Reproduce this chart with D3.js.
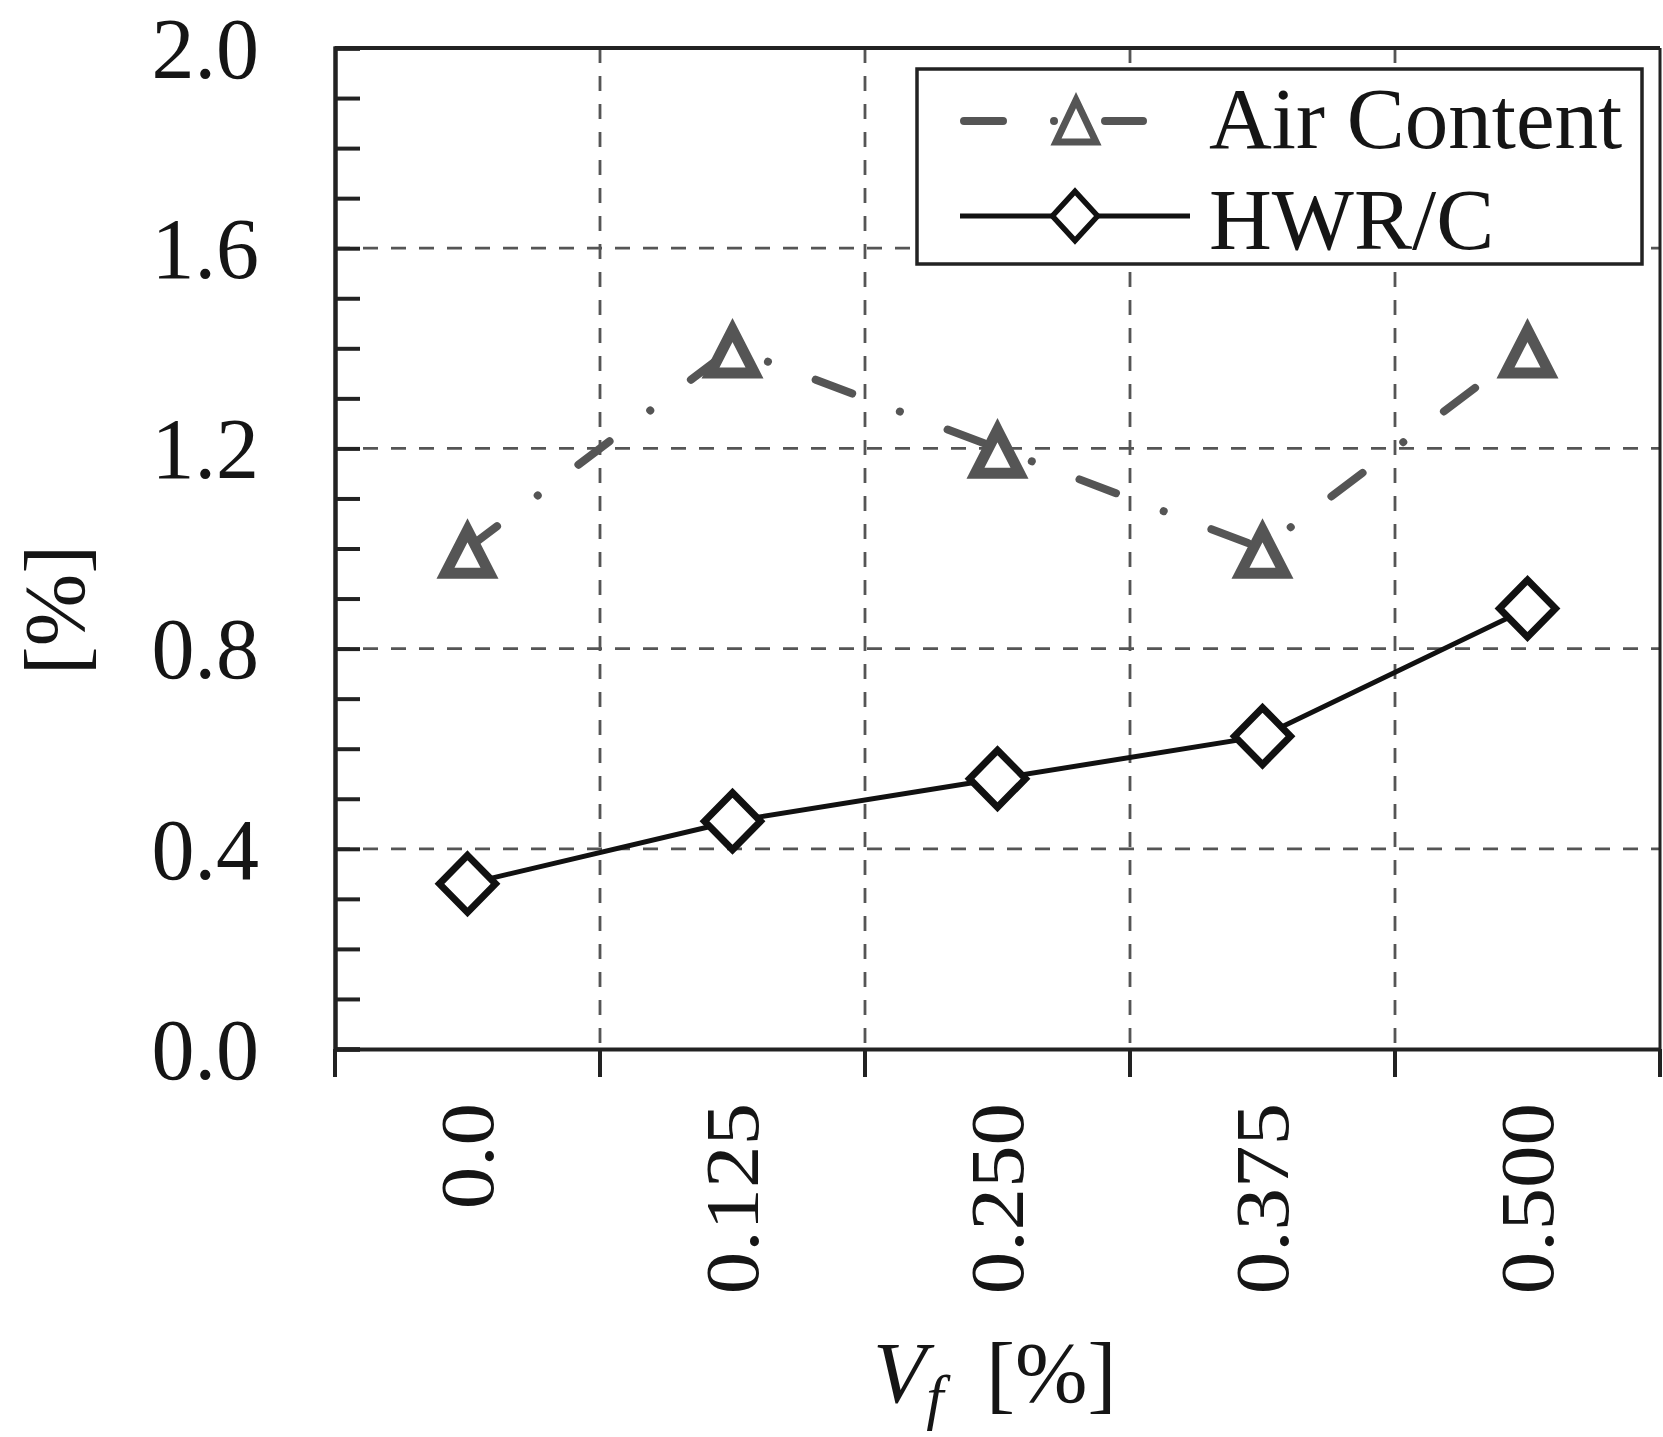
<!DOCTYPE html>
<html>
<head>
<meta charset="utf-8">
<script src="https://cdn.jsdelivr.net/npm/d3@7"></script>
<style>
  html, body { margin: 0; padding: 0; background: #fff; }
  svg { display: block; }
  text { font-family: "Liberation Serif", "Times New Roman", serif; fill: #151515; }
</style>
</head>
<body>
<svg id="chart" width="1663" height="1437"></svg>
<script>
// ---------- data ----------
const categories = ["0.0", "0.125", "0.250", "0.375", "0.500"];
const airContent = [1.0, 1.4, 1.2, 1.0, 1.4];
const hwrc = [0.33, 0.455, 0.54, 0.625, 0.88];
const yMajorTicks = [0.0, 0.4, 0.8, 1.2, 1.6, 2.0];
const yMinorTicks = [0.1, 0.2, 0.3, 0.5, 0.6, 0.7, 0.9, 1.0, 1.1, 1.3, 1.4, 1.5, 1.7, 1.8, 1.9];
const seriesNames = ["Air Content", "HWR/C"];

// ---------- layout ----------
const plot = { left: 335, right: 1660, top: 48, bottom: 1049 };
const axisColor = "#222";
const gridColor = "#555";
const airColor = "#555";
const fontSize = 87;
const airDash = "39,51,0.01,51";

const svg = d3.select("#chart");

const x = d3.scaleBand().domain(categories).range([plot.left, plot.right]).padding(0);
const y = d3.scaleLinear().domain([0, 2]).range([plot.bottom, plot.top]);

const boundaries = categories.map(c => x(c)).concat([x.range()[1]]);
const cx = c => x(c) + x.bandwidth() / 2;

// ---------- gridlines ----------
const grid = svg.append("g");
grid.selectAll("line.hg")
  .data(yMajorTicks.filter(v => v > 0 && v < 2))
  .join("line")
  .attr("x1", plot.left).attr("x2", plot.right)
  .attr("y1", d => y(d)).attr("y2", d => y(d))
  .attr("stroke", gridColor).attr("stroke-width", 2.8)
  .attr("stroke-dasharray", "15,13");
grid.selectAll("line.vg")
  .data(boundaries.slice(1, -1))
  .join("line")
  .attr("x1", d => d).attr("x2", d => d)
  .attr("y1", plot.top).attr("y2", plot.bottom)
  .attr("stroke", gridColor).attr("stroke-width", 2.8)
  .attr("stroke-dasharray", "15,13");

// ---------- frame ----------
svg.append("line").attr("x1", plot.left).attr("x2", plot.right)
  .attr("y1", plot.top).attr("y2", plot.top)
  .attr("stroke", axisColor).attr("stroke-width", 4);
svg.append("line").attr("x1", plot.right).attr("x2", plot.right)
  .attr("y1", plot.top).attr("y2", plot.bottom)
  .attr("stroke", axisColor).attr("stroke-width", 3);

// ---------- y axis ----------
const yAxisMajor = svg.append("g").attr("transform", `translate(${plot.left},0)`)
  .call(d3.axisLeft(y).tickValues(yMajorTicks).tickFormat(d3.format(".1f"))
    .tickSize(-25).tickPadding(76));
const yAxisMinor = svg.append("g").attr("transform", `translate(${plot.left},0)`)
  .call(d3.axisLeft(y).tickValues(yMinorTicks).tickFormat("").tickSize(-25));
[yAxisMajor, yAxisMinor].forEach(g => {
  g.select(".domain").attr("stroke", axisColor).attr("stroke-width", 4);
  g.selectAll(".tick line").attr("stroke", axisColor).attr("stroke-width", 4);
});
yAxisMajor.selectAll(".tick text")
  .attr("font-size", 86)
  .attr("dy", "0.34em")
  .attr("font-family", "Liberation Serif")
  .attr("fill", "#151515");

// ---------- x axis ----------
const xAxis = svg.append("g").attr("transform", `translate(0,${plot.bottom})`)
  .call(d3.axisBottom(x).tickSize(0));
xAxis.select(".domain").attr("stroke", axisColor).attr("stroke-width", 4);
xAxis.selectAll(".tick text")
  .attr("font-size", 85)
  .attr("font-family", "Liberation Serif")
  .attr("fill", "#151515")
  .attr("text-anchor", "end")
  .attr("y", null).attr("dy", "0.33em")
  .attr("transform", "translate(0,54) rotate(-90) scale(1,0.9)");
svg.append("g").selectAll("line")
  .data(boundaries)
  .join("line")
  .attr("x1", d => d).attr("x2", d => d)
  .attr("y1", plot.bottom).attr("y2", plot.bottom + 28)
  .attr("stroke", axisColor).attr("stroke-width", 4);

// ---------- axis titles ----------
const xt = svg.append("text")
  .attr("x", 873).attr("y", 1402)
  .attr("font-size", fontSize);
xt.append("tspan").attr("font-style", "italic").text("V");
xt.append("tspan").attr("font-style", "italic").attr("font-size", 62)
  .attr("dx", 0).attr("dy", 16).text("f");
xt.append("tspan").attr("x", 986).attr("dy", -16).text("[%]");

svg.append("text")
  .attr("transform", "translate(84,610) rotate(-90)")
  .attr("text-anchor", "middle").attr("font-size", fontSize)
  .text("[%]");

// ---------- markers ----------
// triangle: half width hw, apex above centre by a, base below centre by b
const triSym = (hw, a, b) => ({
  draw(ctx) {
    ctx.moveTo(0, -a);
    ctx.lineTo(hw, b);
    ctx.lineTo(-hw, b);
    ctx.closePath();
  }
});
const diaSym = (hw, hh) => ({
  draw(ctx) {
    ctx.moveTo(0, -hh);
    ctx.lineTo(hw, 0);
    ctx.lineTo(0, hh);
    ctx.lineTo(-hw, 0);
    ctx.closePath();
  }
});
const triPath = d3.symbol().type(triSym(22, 18.2, 24.8))();
const diaPath = d3.symbol().type(diaSym(28, 28.5))();
const triPathLegend = d3.symbol().type(triSym(20, 18.9, 23.1))();
const diaPathLegend = d3.symbol().type(diaSym(22.6, 24.6))();

// ---------- series ----------
const airData = categories.map((c, i) => ({ c, v: airContent[i] }));
const hwrData = categories.map((c, i) => ({ c, v: hwrc[i] }));
const line = d3.line().x(d => cx(d.c)).y(d => y(d.v));

svg.append("path").datum(airData)
  .attr("d", line)
  .attr("fill", "none").attr("stroke", airColor).attr("stroke-width", 8)
  .attr("stroke-linecap", "round")
  .attr("stroke-dasharray", airDash)
  .attr("stroke-dashoffset", 2);

svg.append("path").datum(hwrData)
  .attr("d", line)
  .attr("fill", "none").attr("stroke", "#111").attr("stroke-width", 5);

svg.append("g").selectAll("path")
  .data(airData).join("path")
  .attr("transform", d => `translate(${cx(d.c)},${y(d.v)})`)
  .attr("d", triPath)
  .attr("fill", "#fff").attr("stroke", airColor).attr("stroke-width", 11)
  .attr("stroke-linejoin", "miter");

svg.append("g").selectAll("path")
  .data(hwrData).join("path")
  .attr("transform", d => `translate(${cx(d.c)},${y(d.v)})`)
  .attr("d", diaPath)
  .attr("fill", "#fff").attr("stroke", "#111").attr("stroke-width", 7)
  .attr("stroke-linejoin", "miter");

// ---------- legend ----------
const lg = svg.append("g");
lg.append("rect").attr("x", 917).attr("y", 69).attr("width", 725).attr("height", 195)
  .attr("fill", "#fff").attr("stroke", axisColor).attr("stroke-width", 3.5);

// Air Content row
lg.append("line").attr("x1", 964).attr("x2", 1143).attr("y1", 121).attr("y2", 121)
  .attr("stroke", airColor).attr("stroke-width", 8)
  .attr("stroke-linecap", "round")
  .attr("stroke-dasharray", airDash);
lg.append("path").attr("transform", "translate(1076,119)").attr("d", triPathLegend)
  .attr("fill", "#fff").attr("stroke", airColor).attr("stroke-width", 7);
lg.append("text").attr("x", 1209).attr("y", 148).attr("font-size", fontSize).text(seriesNames[0]);

// HWR/C row
lg.append("line").attr("x1", 960).attr("x2", 1190).attr("y1", 216).attr("y2", 216)
  .attr("stroke", "#111").attr("stroke-width", 5);
lg.append("path").attr("transform", "translate(1075,216)").attr("d", diaPathLegend)
  .attr("fill", "#fff").attr("stroke", "#111").attr("stroke-width", 5.5);
lg.append("text").attr("x", 1209).attr("y", 249).attr("font-size", fontSize).text(seriesNames[1]);
</script>
</body>
</html>
